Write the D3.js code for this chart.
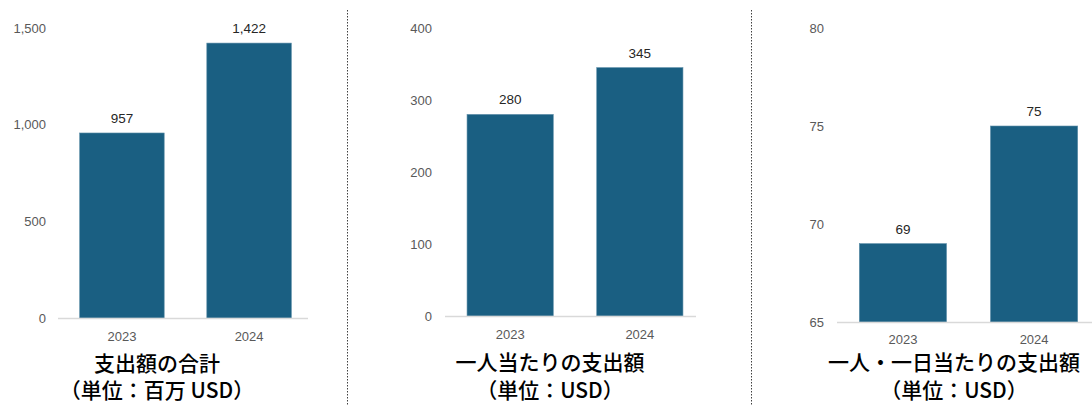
<!DOCTYPE html>
<html>
<head>
<meta charset="utf-8">
<script src="https://cdn.jsdelivr.net/npm/d3@7"></script>
<style>
  html, body { margin: 0; padding: 0; background: #fff; }
  svg { display: block; }
</style>
</head>
<body>
<svg id="chart" width="1092" height="405"></svg>
<script>
// Years shown on every panel
const years = ["2023", "2024"];

// Total spending (million USD)
const totalSpend = [957, 1422];
const totalTicks = [0, 500, 1000, 1500];

// Spending per person (USD)
const perPerson = [280, 345];
const perPersonTicks = [0, 100, 200, 300, 400];

// Spending per person per day (USD)
const perPersonDay = [69, 75];
const perPersonDayTicks = [65, 70, 75, 80];

const panelTitles = [
  ["支出額の合計", "（単位：百万 USD）"],
  ["一人当たりの支出額", "（単位：USD）"],
  ["一人・一日当たりの支出額", "（単位：USD）"]
];

const panels = [
  { values: totalSpend, ticks: totalTicks, domain: [0, 1500],
    band: [58, 313], axisX: [58, 308], labelX: 46, top: 28, base: 318, titleX: 157, titleY: 363.5, catY: 336 },
  { values: perPerson, ticks: perPersonTicks, domain: [0, 400],
    band: [445, 705], axisX: [445, 696], labelX: 432, top: 28, base: 316, titleX: 550, titleY: 363, catY: 334 },
  { values: perPersonDay, ticks: perPersonDayTicks, domain: [65, 80],
    band: [837, 1100], axisX: [837, 1092], labelX: 824, top: 28, base: 322, titleX: 954, titleY: 363, catY: 339 }
];

const svg = d3.select("#chart");
const barColor = "#1a5f82";
const fmt = d3.format(",");
const latin = "Liberation Sans, Arial, sans-serif";
const cjk = "Noto Sans CJK JP, sans-serif";

panels.forEach((p, i) => {
  const g = svg.append("g");
  const y = d3.scaleLinear().domain(p.domain).range([p.base, p.top]);
  const x = d3.scaleBand().domain(years).range(p.band)
    .paddingInner(0.335).paddingOuter(0.17);

  // y tick labels (no axis line)
  const yAxis = d3.axisLeft(y).tickValues(p.ticks).tickSize(0).tickPadding(0).tickFormat(fmt);
  const ya = g.append("g").attr("transform", `translate(${p.labelX},0)`).call(yAxis);
  ya.select(".domain").remove();
  ya.selectAll("text")
    .attr("font-family", latin)
    .attr("font-size", 13).attr("fill", "#595959");

  // bars
  g.selectAll("rect.bar").data(p.values).join("rect")
    .attr("class", "bar")
    .attr("x", (d, j) => x(years[j]))
    .attr("width", x.bandwidth())
    .attr("y", d => y(d))
    .attr("height", d => y(p.domain[0]) - y(d))
    .attr("fill", barColor)
    .attr("stroke", "#5f8fa9").attr("stroke-width", 0.6);

  // baseline
  g.append("line")
    .attr("x1", p.axisX[0]).attr("x2", p.axisX[1])
    .attr("y1", y(p.domain[0]) + 0.5).attr("y2", y(p.domain[0]) + 0.5)
    .attr("stroke", "#d9d9d9").attr("stroke-width", 1.5);

  // value labels
  g.selectAll("text.val").data(p.values).join("text")
    .attr("class", "val")
    .attr("x", (d, j) => x(years[j]) + x.bandwidth() / 2)
    .attr("y", d => y(d) - 10)
    .attr("text-anchor", "middle")
    .attr("font-family", latin)
    .attr("font-size", 13.5).attr("fill", "#262626")
    .text(d => fmt(d));

  // category labels
  g.selectAll("text.cat").data(years).join("text")
    .attr("class", "cat")
    .attr("x", d => x(d) + x.bandwidth() / 2)
    .attr("y", p.catY)
    .attr("dy", "0.35em")
    .attr("text-anchor", "middle")
    .attr("font-family", latin)
    .attr("font-size", 13).attr("fill", "#595959")
    .text(d => d);

  // panel titles
  const [t1, t2] = panelTitles[i];
  g.append("text").attr("x", p.titleX).attr("y", p.titleY).attr("dy", "0.35em")
    .attr("text-anchor", "middle")
    .attr("font-family", cjk).attr("font-weight", 500)
    .attr("font-size", 21).attr("fill", "#000").text(t1);
  g.append("text").attr("x", p.titleX).attr("y", 391).attr("dy", "0.35em")
    .attr("text-anchor", "middle")
    .attr("font-family", cjk).attr("font-weight", 500)
    .attr("font-size", 21).attr("fill", "#000").text(t2);
});

// dotted separators between panels
[347.5, 751.5].forEach(xp => {
  svg.append("line")
    .attr("x1", xp).attr("x2", xp).attr("y1", 10).attr("y2", 405)
    .attr("stroke", "#404040").attr("stroke-width", 1)
    .attr("stroke-dasharray", "1.5,1.5");
});
</script>
</body>
</html>
